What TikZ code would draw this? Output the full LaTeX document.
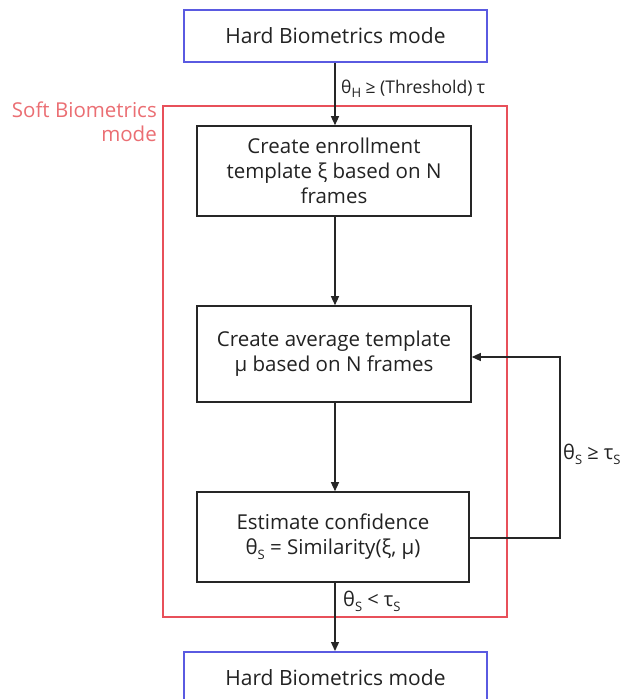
\documentclass[tikz,border=0pt]{standalone}
\usepackage{fontspec}
\setmainfont{Open Sans}
\usetikzlibrary{arrows.meta}
\definecolor{hbblue}{RGB}{90,90,225}
\definecolor{sbred}{RGB}{232,80,90}
\definecolor{sbtext}{RGB}{235,110,115}
\definecolor{txt}{RGB}{34,34,34}
\newcommand{\sub}[1]{\raisebox{-0.45ex}{\fontsize{13}{13}\selectfont #1}}
\tikzset{
  hbbox/.style={draw=hbblue, line width=1.6pt, minimum width=303pt, inner sep=0pt, text=txt, font=\fontsize{21}{24}\selectfont},
  stepbox/.style={draw=black!85, line width=1.6pt, minimum width=274pt, minimum height=90pt, align=center, inner sep=0pt, text=txt, font=\fontsize{20.5}{25}\selectfont},
  conn/.style={draw=black!85, line width=1.3pt, -{Triangle[length=9pt,width=8pt]}},
  lbl/.style={font=\fontsize{17.5}{20}\selectfont, inner sep=0pt, text=txt}
}
\begin{document}
\begin{tikzpicture}[x=1pt,y=-1pt]
\useasboundingbox (0,0) rectangle (628,699);
\clip (0,0) rectangle (628,699);
\fill[white] (0,0) rectangle (628,699);
% soft biometrics region
\draw[sbred, line width=1.2pt] (163,106) rectangle (507,617);
\node[anchor=north east, align=right, text=sbtext, font=\fontsize{20.5}{24}\selectfont, inner sep=0pt] (softlbl) at (157,102) {Soft Biometrics\\mode};
% boxes
\node[hbbox, minimum height=52pt] (hbtop) at (335.5,36) {Hard Biometrics mode};
\node[stepbox] (create) at (334,171) {Create enrollment\\template ξ based on N\\frames};
\node[stepbox, minimum height=96pt] (avg) at (334,354) {Create average template\\μ based on N frames};
\node[stepbox, minimum width=272pt] (est) at (333,537) {Estimate confidence\\θ\sub{S} = Similarity(ξ, μ)};
\node[hbbox, minimum height=52pt, anchor=north] (hbbot) at (335.5,651) {Hard Biometrics mode};
% connectors
\draw[conn] (hbtop.south -| 335,0) -- (create.north -| 335,0);
\draw[conn] (create.south -| 335,0) -- (avg.north -| 335,0);
\draw[conn] (avg.south -| 335,0) -- (est.north -| 335,0);
\draw[conn] (est.south -| 335,0) -- (hbbot.north -| 335,0);
\coordinate (fbr) at (560,538);
\coordinate (fbt) at (560,357);
\draw[conn] (est.east |- fbr) -- (fbr) -- (fbt) -- (avg.east |- fbt);
% labels
\node[lbl, anchor=west] (lh) at (341,89) {θ\sub{H} ≥ (Threshold) τ};
\node[lbl, anchor=west, font=\fontsize{20}{22}\selectfont] (lss) at (563,454) {θ\sub{S} ≥ τ\sub{S}};
\node[lbl, anchor=west, font=\fontsize{20}{22}\selectfont] (lsl) at (343,601) {θ\sub{S} < τ\sub{S}};
\end{tikzpicture}
\end{document}
